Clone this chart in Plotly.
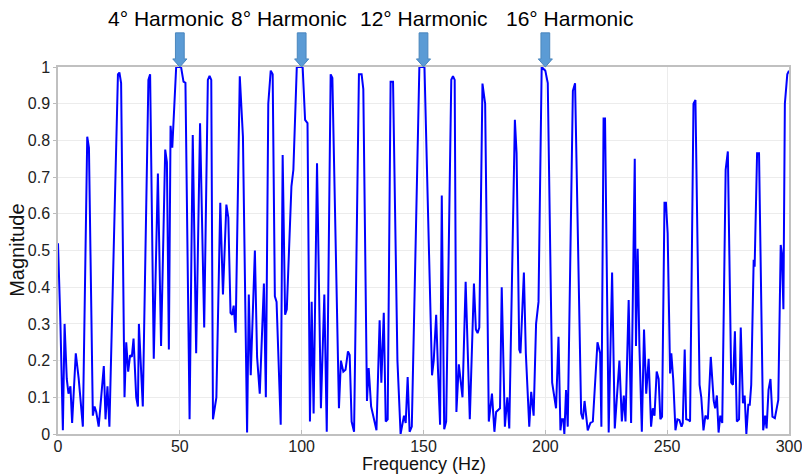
import plotly.graph_objects as go

# Magnitude spectrum samples (frequency in Hz, normalised magnitude)
freq = [
    0, 1.0, 2.0, 2.7, 3.6, 4.3, 5.1, 5.8, 7.3, 8.5, 10.2, 12.0, 12.7, 14.3, 15.0, 15.7,
    16.7, 18.8, 19.5, 20.3, 21.1, 24.6, 25.2, 25.9, 27.3, 28.0, 28.8, 29.6, 30.3, 31.0,
    32.1, 32.8, 33.2, 34.0, 34.8, 37.1, 37.8, 39.3, 41.0, 42.3, 44.0, 44.7, 45.5, 46.2,
    46.9, 48.5, 50.5, 51.5, 52.3, 54.0, 55.3, 56.7, 58.3, 60.0, 61.5, 62.2, 62.9, 63.6,
    65.0, 66.6, 67.7, 69.1, 69.9, 70.8, 71.5, 72.1, 72.9, 74.6, 75.9, 77.6, 78.3, 79.1,
    80.8, 81.7, 82.8, 84.5, 85.3, 86.3, 87.3, 88.1, 89.0, 89.7, 91.4, 92.2, 93.2, 93.9,
    95.8, 96.6, 98.0, 100.4, 101.4, 102.4, 103.4, 104.1, 104.9, 106.3, 107.9, 109.3,
    110.3, 111.9, 112.6, 115.3, 116.1, 117.1, 118.0, 119.0, 119.7, 120.5, 121.5, 123.5,
    124.6, 125.3, 126.8, 127.5, 128.5, 130.7, 132.0, 132.7, 133.7, 134.5, 135.3, 136.5,
    137.5, 139.3, 140.6, 142.0, 142.7, 143.5, 144.3, 145.2, 148.3, 150.4, 153.5, 154.2,
    155.2, 156.0, 156.8, 157.5, 158.5, 159.3, 161.4, 162.1, 162.8, 163.5, 164.5, 166.0,
    167.3, 169.0, 170.7, 171.5, 172.2, 172.9, 174.2, 175.3, 176.8, 178.1, 179.1, 179.8,
    180.7, 181.4, 182.1, 183.4, 184.4, 185.2, 187.5, 188.2, 189.3, 189.8, 191.2, 192.0,
    193.4, 194.2, 195.2, 196.2, 197.2, 198.5, 200.0, 201.0, 202.8, 204.4, 205.4, 206.2,
    206.7, 207.4, 207.8, 208.5, 209.2, 211.3, 212.2, 214.7, 215.4, 216.1, 217.4, 218.5,
    219.5, 221.4, 222.5, 223.0, 223.9, 224.5, 226.0, 227.4, 228.5, 230.4, 231.4, 232.2,
    232.9, 234.2, 235.2, 236.7, 237.2, 237.9, 238.6, 239.6, 240.5, 241.4, 242.4, 243.4,
    244.1, 244.8, 245.7, 246.5, 247.2, 247.9, 248.9, 249.5, 250.2, 251.2, 251.7, 252.5,
    253.4, 254.2, 255.0, 255.9, 256.4, 257.2, 257.8, 258.9, 259.4, 260.8, 261.6, 263.3,
    264.0, 264.9, 265.7, 266.7, 267.9, 269.1, 269.7, 270.4, 271.1, 271.8, 272.6, 274.0,
    274.9, 276.3, 277.0, 277.8, 278.6, 279.5, 280.2, 281.1, 281.8, 282.5, 283.3, 283.9,
    284.5, 285.5, 285.9, 286.9, 287.7, 289.4, 290.2, 290.8, 291.6, 292.4, 293.2, 294.2,
    295.6, 296.6, 297.1, 297.7, 298.3, 299.3, 300.0,
]
magnitude = [
    0.52, 0.30, 0.01, 0.30, 0.15, 0.11, 0.13, 0.03, 0.22, 0.15, 0.02, 0.81, 0.78, 0.05, 0.075, 0.06,
    0.02, 0.185, 0.04, 0.13, 0.02, 0.98, 0.985, 0.956, 0.10, 0.25, 0.17, 0.215, 0.21, 0.26,
    0.10, 0.075, 0.30, 0.19, 0.075, 0.965, 0.98, 0.205, 0.71, 0.24, 0.775, 0.74, 0.23, 0.84,
    0.78, 1.0, 1.0, 0.96, 0.957, 0.04, 0.815, 0.22, 0.847, 0.29, 0.965, 0.976, 0.965, 0.04,
    0.10, 0.63, 0.38, 0.625, 0.59, 0.33, 0.325, 0.35, 0.276, 0.975, 0.81, 0.004, 0.38, 0.16,
    0.50, 0.21, 0.11, 0.41, 0.10, 0.90, 0.99, 0.98, 0.375, 0.36, 0.025, 0.76, 0.325, 0.34,
    0.675, 0.72, 1.0, 1.0, 0.856, 0.847, 0.034, 0.36, 0.056, 0.738, 0.07, 0.38,
    0.006, 0.98, 0.97, 0.07, 0.20, 0.17, 0.175, 0.225, 0.215, 0.034, 0.006, 0.98,
    0.98, 0.94, 0.09, 0.18, 0.075, 0.01, 0.31, 0.14, 0.33, 0.034, 0.04, 0.96,
    0.96, 0.20, 0.0, 0.05, 0.03, 0.155, 0.006, 0.02, 1.0, 1.0, 0.16, 0.20,
    0.325, 0.165, 0.025, 0.65, 0.013, 0.034, 0.965, 0.975, 0.965, 0.06, 0.19, 0.10,
    0.415, 0.04, 0.41, 0.285, 0.275, 0.29, 0.955, 0.90, 0.034, 0.11, 0.006, 0.06,
    0.065, 0.07, 0.40, 0.02, 0.10, 0.015, 0.856, 0.765, 0.23, 0.22, 0.44, 0.22,
    0.02, 0.115, 0.05, 0.30, 0.36, 1.0, 0.99, 0.956, 0.14, 0.07, 0.265, 0.01,
    0.04, 0.04, 0.0, 0.12, 0.02, 0.935, 0.956, 0.056, 0.04, 0.09, 0.01, 0.03,
    0.034, 0.25, 0.22, 0.02, 0.86, 0.86, 0.004, 0.44, 0.015, 0.20, 0.034, 0.105,
    0.034, 0.365, 0.03, 0.75, 0.24, 0.505, 0.24, 0.006, 0.285, 0.11, 0.205, 0.02,
    0.07, 0.05, 0.17, 0.15, 0.04, 0.047, 0.63, 0.63, 0.547, 0.165, 0.22, 0.147,
    0.01, 0.04, 0.038, 0.02, 0.03, 0.23, 0.04, 0.038, 0.034, 0.90, 0.91, 0.134,
    0.10, 0.01, 0.05, 0.04, 0.21, 0.09, 0.07, 0.105, 0.004, 0.05, 0.03, 0.72,
    0.77, 0.14, 0.134, 0.28, 0.034, 0.04, 0.29, 0.084, 0.105, 0.0, 0.08, 0.08,
    0.134, 0.475, 0.456, 0.765, 0.765, 0.01, 0.05, 0.015, 0.12, 0.15, 0.047, 0.043,
    0.093, 0.515, 0.49, 0.34, 0.90, 0.98, 0.99,
]

# Harmonics marked above the plot
harmonic_freq = [50, 100, 150, 200]
harmonic_labels = ["4° Harmonic", "8° Harmonic", "12° Harmonic", "16° Harmonic"]
label_x_offset = [-5.5, -5, 0, 10]  # Hz shift of each label relative to its arrow

x_ticks = [0, 50, 100, 150, 200, 250, 300]
y_ticks = [0, 0.1, 0.2, 0.3, 0.4, 0.5, 0.6, 0.7, 0.8, 0.9, 1]
y_tick_text = ["0", "0.1", "0.2", "0.3", "0.4", "0.5", "0.6", "0.7", "0.8", "0.9", "1"]

TEXT_FONT = "Liberation Sans, Arial"

fig = go.Figure()
fig.add_trace(go.Scatter(
    x=freq, y=magnitude, mode="lines",
    line=dict(color="#0000ff", width=2),
    hoverinfo="x+y", showlegend=False,
))

# Block arrows pointing at the harmonic peaks
shaft_hw = 1.8   # Hz
head_hw = 2.9    # Hz
y_top, y_neck, y_tip = 1.093, 1.022, 1.0
shapes = []
annotations = []
for f, lab, dx in zip(harmonic_freq, harmonic_labels, label_x_offset):
    path = (
        f"M {f - shaft_hw},{y_top} L {f + shaft_hw},{y_top} L {f + shaft_hw},{y_neck} "
        f"L {f + head_hw},{y_neck} L {f},{y_tip} L {f - head_hw},{y_neck} "
        f"L {f - shaft_hw},{y_neck} Z"
    )
    shapes.append(dict(type="path", path=path, xref="x", yref="paper",
                       fillcolor="#5b9bd5", line=dict(color="#4a86bd", width=1),
                       layer="above"))
    annotations.append(dict(x=f + dx, y=1.132, xref="x", yref="paper",
                            text=lab, showarrow=False, xanchor="center", yanchor="middle",
                            font=dict(family=TEXT_FONT, size=21, color="#000000")))

# Axis titles
annotations.append(dict(text="Frequency (Hz)", x=0.5, y=-0.082, xref="paper", yref="paper",
                        xanchor="center", yanchor="middle", showarrow=False,
                        font=dict(family=TEXT_FONT, size=18, color="#111111")))
annotations.append(dict(text="Magnitude", x=-0.057, y=0.5, xref="paper", yref="paper",
                        xanchor="center", yanchor="middle", showarrow=False, textangle=-90,
                        font=dict(family=TEXT_FONT, size=20, color="#111111")))

fig.update_layout(
    width=802, height=476,
    margin=dict(l=58, r=13, t=67, b=42),
    paper_bgcolor="white", plot_bgcolor="white",
    shapes=shapes, annotations=annotations,
    font=dict(family=TEXT_FONT, color="#222222"),
    xaxis=dict(
        range=[0, 300], tickvals=x_ticks, ticks="inside", ticklen=4, tickcolor="#bbbbbb",
        showgrid=True, gridcolor="#ececec", gridwidth=1, zeroline=False,
        showline=True, linecolor="#c0c0c0", linewidth=1.5, mirror=True,
        tickfont=dict(size=16, color="#222222"), automargin=False,
        ticklabeloverflow="allow", ticklabelstandoff=-3,
    ),
    yaxis=dict(
        range=[0, 1], tickvals=y_ticks, ticktext=y_tick_text, ticks="outside", ticklen=3,
        tickcolor="#bbbbbb", showgrid=True, gridcolor="#ececec", gridwidth=1, zeroline=False,
        showline=True, linecolor="#c0c0c0", linewidth=1.5, mirror=True,
        tickfont=dict(size=16, color="#222222"), automargin=False,
        ticklabeloverflow="allow",
    ),
)

fig.write_html("out.html")
